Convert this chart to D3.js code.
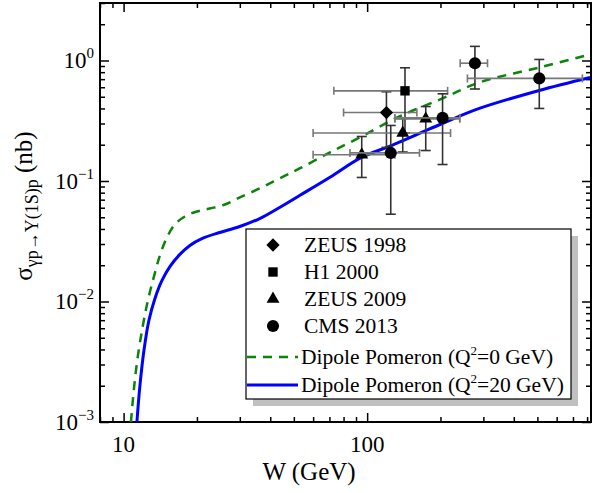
<!DOCTYPE html>
<html>
<head>
<meta charset="utf-8">
<script src="https://cdn.jsdelivr.net/npm/d3@7"></script>
<style>
  body { margin: 0; background: #fff; }
  svg { display: block; font-family: "Liberation Serif", "Times New Roman", serif; }
</style>
</head>
<body>
<div id="chart"></div>
<script>
// tick values
const xMajor = [10, 100];
const xMajorLabels = ["10", "100"];
const xMinor = [8, 9, 20, 30, 40, 50, 60, 70, 80, 90, 200, 300, 400, 500, 600, 700, 800];
const yMajor = [1e-3, 1e-2, 1e-1, 1];
const yExponents = ["-3", "-2", "-1", "0"];

// model curves: W (GeV) and sigma (nb)
const q0W = [10.72, 11.03, 11.45, 12.0, 12.58, 13.32, 14.09, 15.06, 16.23, 17.84, 19.98, 22.59, 26.03, 30.0, 36.2, 43.7, 52.8, 70.1, 94.8, 135.7, 203.6, 288.7, 508.7, 823];
const q0S = [0.001, 0.0019, 0.00356, 0.00632, 0.0102, 0.0161, 0.0241, 0.034, 0.0436, 0.0507, 0.0558, 0.0591, 0.0638, 0.073, 0.0867, 0.105, 0.127, 0.172, 0.234, 0.343, 0.484, 0.657, 0.875, 1.121];
const q20W = [11.34, 11.67, 12.12, 12.7, 13.45, 14.36, 15.49, 17.02, 18.71, 20.95, 24.83, 30.0, 36.2, 43.7, 52.8, 70.1, 94.8, 125.8, 163.9, 203.6, 288.7, 508.7, 823];
const q20S = [0.001, 0.00201, 0.00392, 0.00696, 0.0106, 0.0149, 0.0195, 0.0246, 0.0292, 0.0333, 0.0374, 0.0419, 0.0488, 0.0603, 0.0758, 0.107, 0.157, 0.197, 0.248, 0.3, 0.4, 0.564, 0.723];

// measurements: [W, W low, W high, sigma, sigma low, sigma high]
const zeus1998 = [[120, 80, 160, 0.37, 0.19, 0.55]];
const h12000 = [[143, 73, 214, 0.56, 0.25, 0.87]];
const zeus2009 = [
  [95, 60, 130, 0.165, 0.107, 0.234],
  [140, 60, 220, 0.25, 0.174, 0.33],
  [174, 130, 240, 0.328, 0.179, 0.415]
];
const cms2013 = [
  [125, 85, 164, 0.171, 0.053, 0.289],
  [204, 130, 240, 0.334, 0.137, 0.529],
  [277, 241, 312, 0.95, 0.58, 1.31],
  [509, 258, 765, 0.71, 0.40, 1.02]
];

const legendNames = ["ZEUS 1998", "H1 2000", "ZEUS 2009", "CMS 2013"];

const width = 593, height = 493;
const margin = { top: 3, right: 2, bottom: 71, left: 100 };
const innerW = width - margin.left - margin.right;
const innerH = height - margin.top - margin.bottom;

const svg = d3.select("#chart").append("svg")
  .attr("width", width)
  .attr("height", height);

const g = svg.append("g").attr("transform", `translate(${margin.left},${margin.top})`);

const x = d3.scaleLog().domain([8, 830]).range([0, innerW]);
const y = d3.scaleLog().domain([1e-3, 3]).range([innerH, 0]);

g.append("clipPath").attr("id", "clip")
  .append("rect").attr("width", innerW).attr("height", innerH);

// y minor ticks
const yMinor = [];
[1e-3, 1e-2, 1e-1, 1].forEach(d => {
  for (let k = 2; k <= 9; k++) if (d * k <= 3) yMinor.push(d * k);
});

// axes with inward ticks
function addAxis(axis, transform, values, size) {
  g.append("g")
    .attr("transform", transform)
    .call(axis.tickValues(values).tickSize(size).tickFormat(""))
    .call(s => s.select(".domain").remove())
    .call(s => s.selectAll(".tick line").attr("stroke", "#000").attr("stroke-width", 1.5));
}
addAxis(d3.axisBottom(x), `translate(0,${innerH})`, xMajor, -9);
addAxis(d3.axisBottom(x), `translate(0,${innerH})`, xMinor, -5);
addAxis(d3.axisTop(x), "translate(0,0)", xMajor, -9);
addAxis(d3.axisTop(x), "translate(0,0)", xMinor, -5);
addAxis(d3.axisLeft(y), "translate(0,0)", yMajor, -9);
addAxis(d3.axisLeft(y), "translate(0,0)", yMinor, -5);
addAxis(d3.axisRight(y), `translate(${innerW},0)`, yMajor, -9);
addAxis(d3.axisRight(y), `translate(${innerW},0)`, yMinor, -5);

// frame
g.append("rect")
  .attr("width", innerW).attr("height", innerH)
  .attr("fill", "none").attr("stroke", "#000").attr("stroke-width", 2);

// tick labels
g.selectAll(".xlab").data(xMajor).enter().append("text")
  .attr("x", d => x(d)).attr("y", innerH + 30)
  .attr("text-anchor", "middle").attr("font-size", 23)
  .text((d, i) => xMajorLabels[i]);

const ylab = g.selectAll(".ylab").data(yMajor).enter().append("text")
  .attr("x", -6).attr("y", d => y(d) + 8)
  .attr("text-anchor", "end").attr("font-size", 23);
ylab.append("tspan").text("10");
ylab.append("tspan").attr("font-size", 15).attr("dy", -10).text((d, i) => yExponents[i].replace("-", "\u2212"));

// axis titles
svg.append("text")
  .attr("x", 309).attr("y", 480)
  .attr("text-anchor", "middle").attr("font-size", 25)
  .text("W (GeV)");

const yt = svg.append("text")
  .attr("transform", "translate(32,206) rotate(-90)")
  .attr("text-anchor", "middle").attr("font-size", 25);
yt.append("tspan").text("\u03c3");
yt.append("tspan").attr("font-size", 18).attr("dy", 6).text("\u03b3p\u2192\u03a5(1S)p");
yt.append("tspan").attr("dy", -6).text(" (nb)");

// curves
const line = d3.line().curve(d3.curveCatmullRom.alpha(0.5)).x(d => x(d[0])).y(d => y(d[1]));
const curves = g.append("g").attr("clip-path", "url(#clip)");
curves.append("path")
  .datum(q0W.map((w, i) => [w, q0S[i]]))
  .attr("d", line).attr("fill", "none")
  .attr("stroke", "#0a850a").attr("stroke-width", 2.5).attr("stroke-dasharray", "9,7");
curves.append("path")
  .datum(q20W.map((w, i) => [w, q20S[i]]))
  .attr("d", line).attr("fill", "none")
  .attr("stroke", "#0000ff").attr("stroke-width", 3);

// error bars and markers
const symbols = [
  d3.symbol().type(d3.symbolSquare).size(88),
  d3.symbol().type(d3.symbolSquare).size(88),
  d3.symbol().type(d3.symbolTriangle).size(72),
  d3.symbol().type(d3.symbolCircle).size(115)
];
const rotations = [45, 0, 0, 0];

function drawSet(data, k) {
  const grp = g.append("g");
  data.forEach(d => {
    const cx = x(d[0]), cy = y(d[3]);
    const x0 = x(d[1]), x1 = x(d[2]), y0 = y(d[4]), y1 = y(d[5]);
    grp.append("line").attr("x1", x0).attr("x2", x1).attr("y1", cy).attr("y2", cy)
      .attr("stroke", "#777").attr("stroke-width", 1.6);
    [x0, x1].forEach(v => grp.append("line").attr("x1", v).attr("x2", v)
      .attr("y1", cy - 4).attr("y2", cy + 4).attr("stroke", "#777").attr("stroke-width", 1.6));
    grp.append("line").attr("x1", cx).attr("x2", cx).attr("y1", y0).attr("y2", y1)
      .attr("stroke", "#333").attr("stroke-width", 1.6);
    [y0, y1].forEach(v => grp.append("line").attr("x1", cx - 5).attr("x2", cx + 5)
      .attr("y1", v).attr("y2", v).attr("stroke", "#333").attr("stroke-width", 1.6));
  });
  grp.selectAll("path").data(data).enter().append("path")
    .attr("d", symbols[k])
    .attr("transform", d => `translate(${x(d[0])},${y(d[3])}) rotate(${rotations[k]})`)
    .attr("fill", "#000");
}
[zeus1998, h12000, zeus2009, cms2013].forEach(drawSet);

// legend
const lg = svg.append("g").attr("transform", "translate(246,229)");
lg.append("rect").attr("x", 7).attr("y", 7).attr("width", 325).attr("height", 170).attr("fill", "#c0c0c0");
lg.append("rect").attr("width", 325).attr("height", 170)
  .attr("fill", "#fff").attr("stroke", "#000").attr("stroke-width", 1.2);

const rowY = [16, 43, 70, 97, 128, 156];
legendNames.forEach((name, i) => {
  lg.append("path").attr("d", symbols[i])
    .attr("transform", `translate(27,${rowY[i]}) rotate(${rotations[i]})`)
    .attr("fill", "#000");
  lg.append("text").attr("x", 58).attr("y", rowY[i] + 7)
    .attr("font-size", 21.5).text(name);
});

lg.append("line").attr("x1", 1).attr("x2", 52).attr("y1", rowY[4]).attr("y2", rowY[4])
  .attr("stroke", "#0a850a").attr("stroke-width", 2.5).attr("stroke-dasharray", "9,7");
lg.append("line").attr("x1", 1).attr("x2", 52).attr("y1", rowY[5]).attr("y2", rowY[5])
  .attr("stroke", "#0000ff").attr("stroke-width", 3);

[["0", 4], ["20", 5]].forEach(([q, r]) => {
  const t = lg.append("text").attr("x", 55).attr("y", rowY[r] + 7).attr("font-size", 21.5);
  t.append("tspan").text("Dipole Pomeron (Q");
  t.append("tspan").attr("font-size", 13).attr("dy", -9).text("2");
  t.append("tspan").attr("dy", 9).text(`=${q} GeV)`);
});
</script>
</body>
</html>
